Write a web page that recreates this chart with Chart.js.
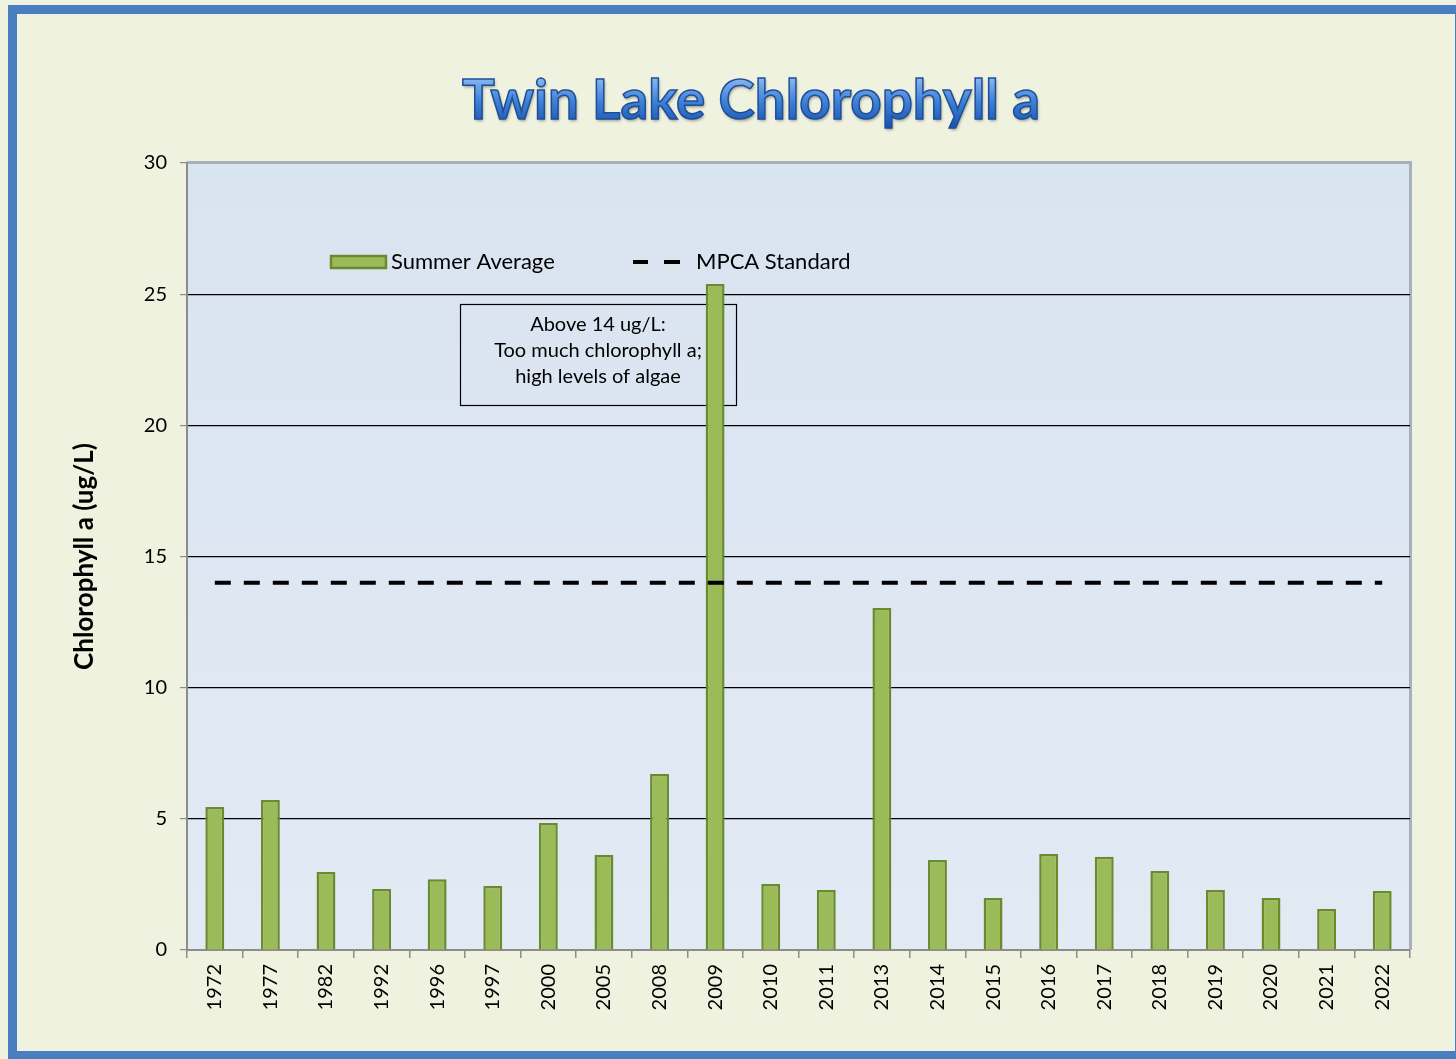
<!DOCTYPE html>
<html><head><meta charset="utf-8">
<script src="https://cdn.jsdelivr.net/npm/chart.js@4/dist/chart.umd.min.js"></script>
<style>html,body{margin:0;padding:0;background:#EEF2DE;overflow:hidden}</style>
</head><body>
<canvas id="c" width="1456" height="1059"></canvas>
<script>
const years = ['1972','1977','1982','1992','1996','1997','2000','2005','2008','2009','2010','2011','2013','2014','2015','2016','2017','2018','2019','2020','2021','2022'];
const summerAverage = [5.45,5.72,2.97,2.33,2.70,2.44,4.84,3.62,6.71,25.39,2.52,2.29,13.04,3.43,1.98,3.66,3.55,3.01,2.29,1.98,1.56,2.25];
const mpcaStandard = [14,14,14,14,14,14,14,14,14,14,14,14,14,14,14,14,14,14,14,14,14,14];
const yTicks = [0,5,10,15,20,25,30];
const titleText = 'Twin Lake Chlorophyll a';
const yTitle = 'Chlorophyll a (ug/L)';
const legendLabels = ['Summer Average','MPCA Standard'];
const noteLines = ['Above 14 ug/L:','Too much chlorophyll a;','high levels of algae'];

const FONT = 'Lato, "Open Sans", sans-serif';

const decor = {
  id:'decor',
  beforeDraw(chart){
    const {ctx, chartArea:a} = chart;
    const W = chart.width, H = chart.height;
    ctx.save();
    ctx.fillStyle = '#EEF2DE';
    ctx.fillRect(0,0,W,H);
    ctx.strokeStyle = '#4A7EC2';
    ctx.lineWidth = 9;
    ctx.strokeRect(12.5, 9.5, W - 9, H - 13);
    const g = ctx.createLinearGradient(0, a.top, 0, a.bottom);
    g.addColorStop(0,'#D9E4F1');
    g.addColorStop(1,'#E2EAF4');
    ctx.fillStyle = g;
    ctx.fillRect(a.left, a.top, a.right - a.left, a.bottom - a.top);
    ctx.strokeStyle = '#A9B0B9';
    ctx.lineWidth = 3;
    ctx.beginPath();
    ctx.moveTo(a.left, a.top - 0.5);
    ctx.lineTo(a.right + 0.5, a.top - 0.5);
    ctx.lineTo(a.right + 0.5, a.bottom);
    ctx.stroke();
    ctx.restore();
  },
  beforeDatasetsDraw(chart){
    const {ctx} = chart;
    ctx.save();
    ctx.strokeStyle = '#000';
    ctx.lineWidth = 1.2;
    ctx.strokeRect(460.5, 304.5, 276, 101);
    ctx.fillStyle = '#000';
    ctx.font = '20px ' + FONT;
    ctx.textAlign = 'center';
    ctx.textBaseline = 'middle';
    const ys = [325, 351, 377];
    noteLines.forEach((t,i)=>ctx.fillText(t, 598, ys[i]));
    const ds0 = chart.data.datasets[0];
    ctx.fillStyle = ds0.backgroundColor;
    ctx.strokeStyle = ds0.borderColor;
    ctx.lineWidth = 2.5;
    ctx.fillRect(331, 256, 55, 12);
    ctx.strokeRect(331, 256, 55, 12);
    ctx.fillStyle = '#000';
    ctx.font = '22px ' + FONT;
    ctx.textAlign = 'left';
    ctx.fillText(legendLabels[0], 391, 262);
    ctx.strokeStyle = '#000';
    ctx.lineWidth = 4;
    ctx.beginPath();
    ctx.moveTo(633, 262); ctx.lineTo(648, 262);
    ctx.moveTo(664, 262); ctx.lineTo(680, 262);
    ctx.stroke();
    ctx.fillText(legendLabels[1], 696, 262);
    ctx.restore();
  },
  afterDraw(chart){
    const {ctx} = chart;
    ctx.save();
    let size = 50;
    ctx.font = 'bold ' + size + 'px ' + FONT;
    const w = ctx.measureText(titleText).width;
    size = size * 578 / w;
    ctx.font = 'bold ' + size + 'px ' + FONT;
    ctx.textAlign = 'center';
    ctx.textBaseline = 'middle';
    const cx = 751, cy = 101;
    const g = ctx.createLinearGradient(0, cy - size*0.45, 0, cy + size*0.45);
    g.addColorStop(0,'#8DBBF0');
    g.addColorStop(0.5,'#3F82D8');
    g.addColorStop(1,'#1C56B0');
    ctx.shadowColor = 'rgba(0,0,0,0.35)';
    ctx.shadowBlur = 3;
    ctx.shadowOffsetX = 1;
    ctx.shadowOffsetY = 2;
    ctx.fillStyle = g;
    ctx.fillText(titleText, cx, cy);
    ctx.shadowColor = 'transparent';
    ctx.strokeStyle = '#1F4E99';
    ctx.lineWidth = 1.5;
    ctx.strokeText(titleText, cx, cy);
    ctx.restore();
  }
};

new Chart(document.getElementById('c'), {
  data: {
    labels: years,
    datasets: [
      {
        type:'bar',
        label: legendLabels[0],
        data: summerAverage,
        backgroundColor: '#9BBB59',
        borderColor: '#6B8A2E',
        borderWidth: 2.5,
        barPercentage: 0.34,
        categoryPercentage: 1,
        order: 2
      },
      {
        type:'line',
        label: legendLabels[1],
        data: mpcaStandard,
        borderColor: '#000',
        borderWidth: 4,
        borderDash: [16,13],
        borderCapStyle: 'butt',
        pointRadius: 0,
        fill: false,
        order: 1
      }
    ]
  },
  options: {
    responsive: false,
    animation: false,
    devicePixelRatio: 1,
    layout: { padding: { top: 163, right: 46, left: 0, bottom: 0 } },
    plugins: { legend: { display: false }, tooltip: { enabled: false }, title: { display: false } },
    scales: {
      x: {
        type: 'category',
        offset: true,
        afterFit(s){ s.height = 109; },
        grid: { drawOnChartArea: false, offset: true, color: '#8C8C8C', tickLength: 8, lineWidth: 1.5 },
        border: { color: '#8C8C8C', width: 2 },
        ticks: { autoSkip: false, minRotation: 90, maxRotation: 90, padding: 6, color: '#000', font: { size: 20, family: FONT } }
      },
      y: {
        min: 0, max: 30,
        afterFit(s){ s.width = 187; },
        afterBuildTicks(s){ s.ticks = yTicks.map(v => ({value: v})); },
        grid: {
          color: c => (c.tick && c.tick.value === 30) ? 'rgba(0,0,0,0)' : (c.tick && c.tick.value === 0 ? '#8C8C8C' : '#000'),
          lineWidth: 1.2,
          tickColor: '#8C8C8C',
          tickLength: 7
        },
        border: { color: '#8C8C8C', width: 2 },
        ticks: { padding: 13, color: '#000', font: { size: 20, family: FONT } },
        title: { display: true, text: yTitle, color: '#000', font: { size: 26, weight: 'bold', family: FONT }, padding: { top: 69, bottom: 0 } }
      }
    }
  },
  plugins: [decor]
});
</script>
</body></html>
